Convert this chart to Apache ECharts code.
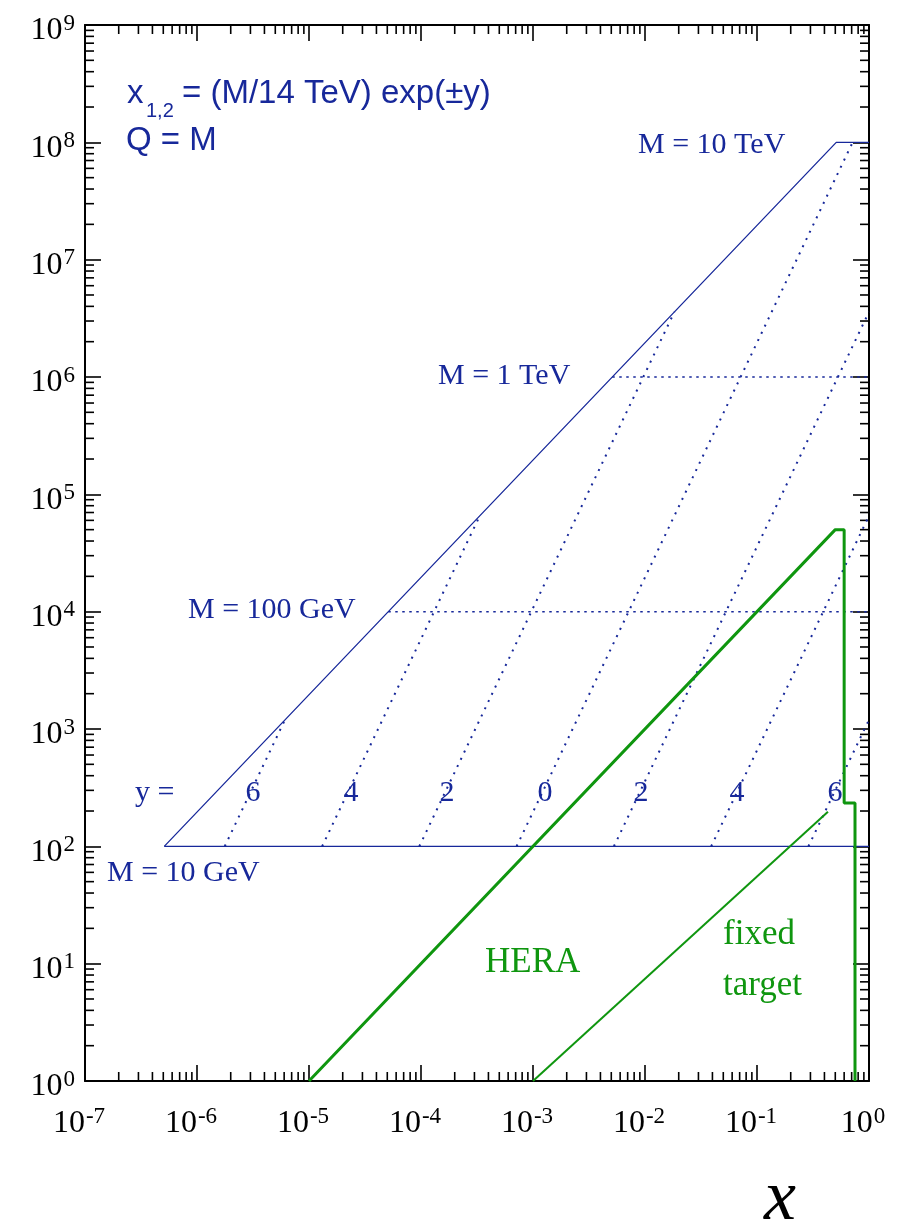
<!DOCTYPE html>
<html>
<head>
<meta charset="utf-8">
<script src="https://cdn.jsdelivr.net/npm/echarts@6/dist/echarts.min.js"></script>
<style>
  html, body { margin: 0; padding: 0; background: #fff; }
  #chart { width: 903px; height: 1226px; }
</style>
</head>
<body>
<div id="chart"></div>
<script>
const SERIF = '"Liberation Serif", "Times New Roman", serif';
const SANS = '"Liberation Sans", Arial, sans-serif';
const BLUE = '#17289a';
const GREEN = '#0f960f';

// axis ranges (x and Q^2, both log)
const xRange = [1e-7, 1];
const qRange = [1, 1e9];

// minor tick positions: 2..9 in every decade
const minorMult = [2, 3, 4, 5, 6, 7, 8, 9];
const xDecades = [1e-7, 1e-6, 1e-5, 1e-4, 1e-3, 1e-2, 1e-1];
const qDecades = [1, 1e1, 1e2, 1e3, 1e4, 1e5, 1e6, 1e7, 1e8];

// LHC reach: upper edge x = M^2/s, capped at M = 10 TeV, floor at M = 10 GeV
const lhcEdge = [[5.1e-7, 1e2], [0.51, 1e8], [1, 1e8]];
const lhcFloor = [[5.1e-7, 1e2], [1, 1e2]];

// constant rapidity lines (y = 6, 4, 2, 0, -2, -4, -6)
const rapidityLines = [
  [[1.77e-6, 1e2], [6.1e-6, 1.2e3]],
  [[1.31e-5, 1e2], [3.35e-4, 6.57e4]],
  [[9.66e-5, 1e2], [1.83e-2, 3.59e6]],
  [[7.14e-4, 1e2], [0.714, 1e8]],
  [[5.28e-3, 1e2], [1, 3.59e6]],
  [[3.9e-2, 1e2], [1, 6.57e4]],
  [[0.288, 1e2], [1, 1.2e3]]
];
// constant mass lines M = 100 GeV and M = 1 TeV
const massLines = [
  [[5.1e-5, 1e4], [1, 1e4]],
  [[5.1e-3, 1e6], [1, 1e6]]
];
const rapidityLabels = ['6', '4', '2', '0', '2', '4', '6'];
const rapidityLabelX = [253, 351, 447, 545, 641, 737, 835];

// HERA and fixed target regions
const hera = [[1e-5, 1], [0.5, 5e4], [0.6, 5e4], [0.6, 234], [0.75, 234], [0.75, 1]];
const fixedTarget = [[1e-3, 1], [0.43, 197]];

const xMinor = [];
xDecades.forEach(d => minorMult.forEach(m => xMinor.push([m * d, qRange[0]])));
const qMinor = [];
qDecades.forEach(d => minorMult.forEach(m => qMinor.push([xRange[0], m * d])));

const myChart = echarts.init(document.getElementById('chart'));

function powLabel(value) {
  const e = Math.round(Math.log10(value));
  return '{b|10}{s|' + e + '}';
}

const tickRich = {
  b: { fontFamily: SERIF, fontSize: 32, lineHeight: 32, verticalAlign: 'bottom', color: '#000' },
  s: { fontFamily: SERIF, fontSize: 23, lineHeight: 23, verticalAlign: 'bottom', padding: [0, 0, 12, 1], color: '#000' }
};

const MINOR = 9;
const MAJOR = 16;
const tickStyle = { stroke: '#000', lineWidth: 1.6 };

function axisBase(extra) {
  return Object.assign({
    type: 'log',
    logBase: 10,
    splitLine: { show: false },
    axisLine: { show: true, onZero: false, lineStyle: { color: '#000', width: 2 } },
    axisTick: { show: true, inside: true, length: MAJOR, lineStyle: { color: '#000', width: 1.6 } },
    minorTick: { show: false }
  }, extra);
}

function lineSeries(data, color, width, type) {
  return {
    type: 'line',
    data: data,
    symbol: 'none',
    silent: true,
    clip: true,
    lineStyle: { color: color, width: width, type: type || 'solid' }
  };
}

function txt(x, y, text, font, color, align) {
  return {
    type: 'text',
    x: x,
    y: y,
    silent: true,
    style: {
      text: text, font: font, fill: color,
      align: align || 'left', textAlign: align || 'left',
      verticalAlign: 'middle', textVerticalAlign: 'middle'
    }
  };
}

const series = [
  // minor ticks, bottom and top
  {
    type: 'custom',
    data: xMinor,
    silent: true,
    renderItem: (params, api) => {
      const v = api.value(0);
      const b = api.coord([v, qRange[0]]);
      const t = api.coord([v, qRange[1]]);
      return {
        type: 'group',
        children: [
          { type: 'line', shape: { x1: b[0], y1: b[1], x2: b[0], y2: b[1] - MINOR }, style: tickStyle },
          { type: 'line', shape: { x1: t[0], y1: t[1], x2: t[0], y2: t[1] + MINOR }, style: tickStyle }
        ]
      };
    }
  },
  // minor ticks, left and right
  {
    type: 'custom',
    data: qMinor,
    silent: true,
    renderItem: (params, api) => {
      const v = api.value(1);
      const l = api.coord([xRange[0], v]);
      const r = api.coord([xRange[1], v]);
      return {
        type: 'group',
        children: [
          { type: 'line', shape: { x1: l[0], y1: l[1], x2: l[0] + MINOR, y2: l[1] }, style: tickStyle },
          { type: 'line', shape: { x1: r[0], y1: r[1], x2: r[0] - MINOR, y2: r[1] }, style: tickStyle }
        ]
      };
    }
  },
  lineSeries(lhcEdge, BLUE, 1.3),
  lineSeries(lhcFloor, BLUE, 1.3)
];
rapidityLines.forEach(d => series.push(lineSeries(d, BLUE, 2, [2, 6])));
massLines.forEach(d => series.push(lineSeries(d, BLUE, 1.5, [2.5, 4.5])));
series.push(lineSeries(hera, GREEN, 3));
series.push(lineSeries(fixedTarget, GREEN, 2));

const graphics = [
  txt(127, 94, 'x', '33px ' + SANS, BLUE),
  txt(146, 111, '1,2', '20px ' + SANS, BLUE),
  txt(182, 94, '= (M/14 TeV) exp(\u00b1y)', '33px ' + SANS, BLUE),
  txt(126, 141, 'Q = M', '33px ' + SANS, BLUE),
  txt(638, 145, 'M = 10 TeV', '30px ' + SERIF, BLUE),
  txt(438, 376, 'M = 1 TeV', '30px ' + SERIF, BLUE),
  txt(188, 610, 'M = 100 GeV', '30px ' + SERIF, BLUE),
  txt(107, 873, 'M = 10 GeV', '30px ' + SERIF, BLUE),
  txt(135, 793, 'y =', '30px ' + SERIF, BLUE),
  txt(485, 963, 'HERA', '35px ' + SERIF, GREEN),
  txt(723, 935, 'fixed', '35px ' + SERIF, GREEN),
  txt(723, 986, 'target', '35px ' + SERIF, GREEN),
  txt(780, 1200, 'x', 'italic 72px ' + SERIF, '#000', 'center')
];
rapidityLabels.forEach((t, i) => graphics.push(txt(rapidityLabelX[i], 793, t, '30px ' + SERIF, BLUE, 'center')));

myChart.setOption({
  animation: false,
  backgroundColor: '#fff',
  grid: { left: 85, right: 34, top: 25, bottom: 145, containLabel: false, outerBoundsMode: 'none' },
  xAxis: [
    axisBase({
      position: 'bottom',
      min: xRange[0], max: xRange[1], splitNumber: 7,
      axisLabel: { formatter: powLabel, rich: tickRich, margin: 27, padding: [0, 12, 0, 0], showMinLabel: true, showMaxLabel: true }
    }),
    axisBase({
      position: 'top',
      min: xRange[0], max: xRange[1], splitNumber: 7,
      axisLabel: { show: false }
    })
  ],
  yAxis: [
    axisBase({
      position: 'left',
      min: qRange[0], max: qRange[1], splitNumber: 9,
      axisLabel: { formatter: powLabel, rich: tickRich, margin: 10, padding: [12, 0, 0, 0], showMinLabel: true, showMaxLabel: true }
    }),
    axisBase({
      position: 'right',
      min: qRange[0], max: qRange[1], splitNumber: 9,
      axisLabel: { show: false }
    })
  ],
  series: series,
  graphic: graphics
});
</script>
</body>
</html>
